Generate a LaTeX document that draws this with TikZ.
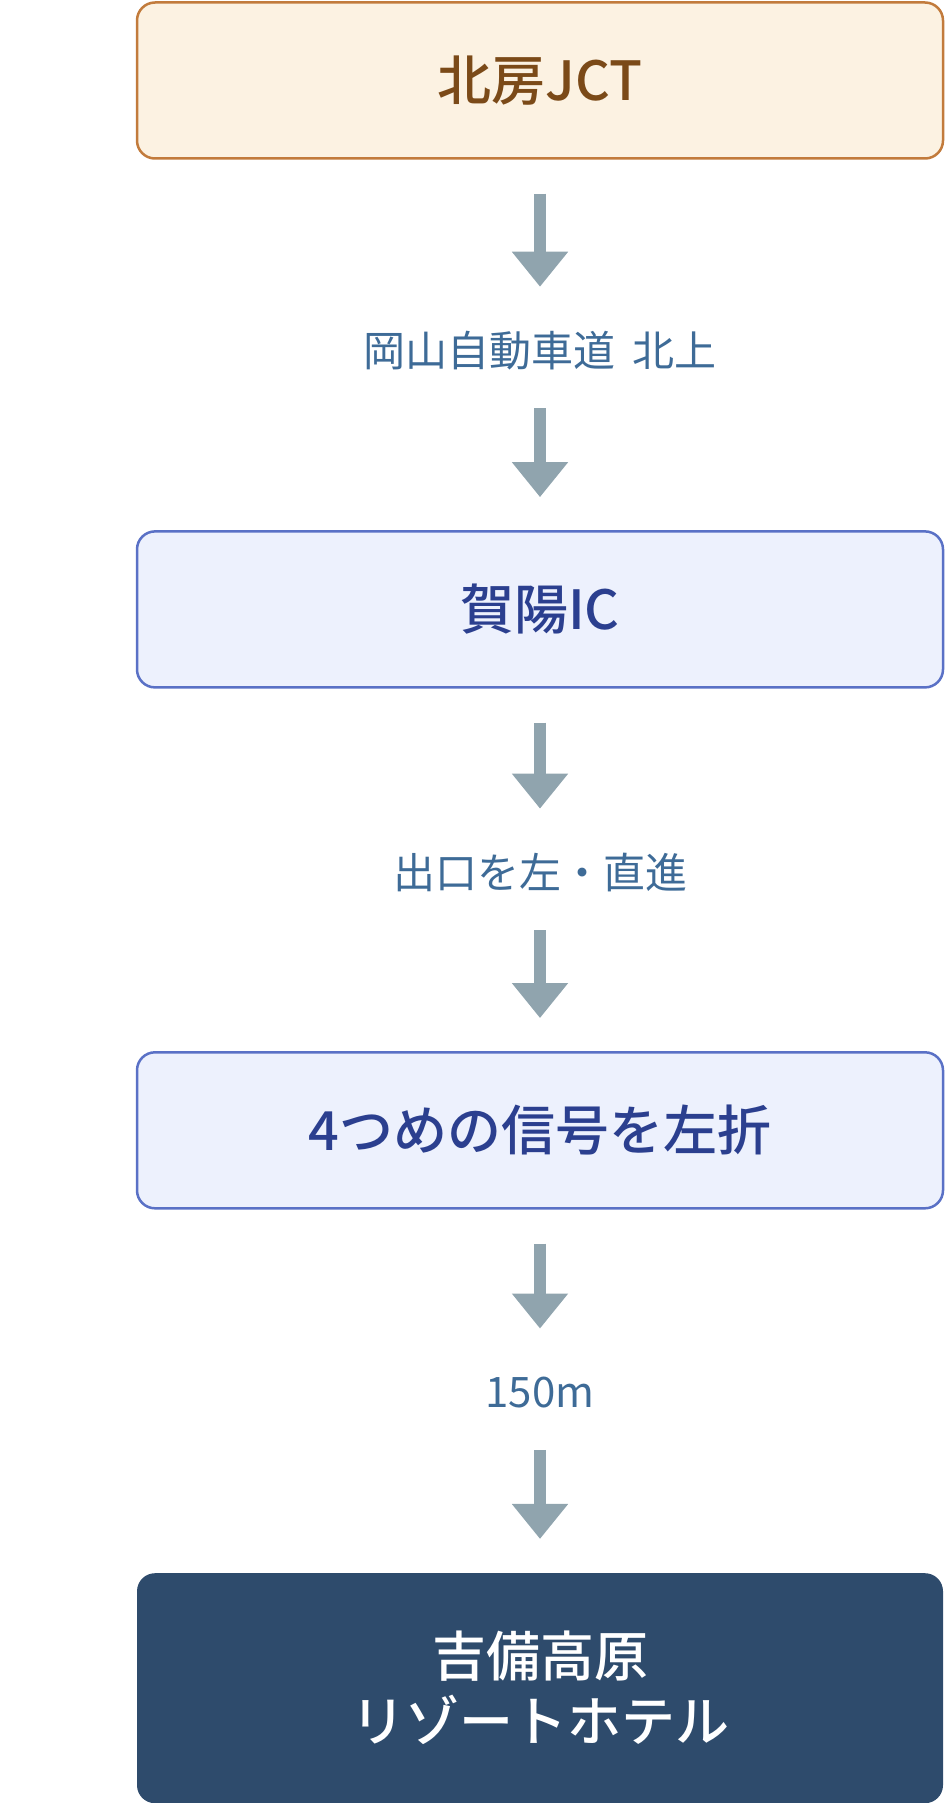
\documentclass[tikz,border=0pt]{standalone}
\usepackage{fontspec}
\setmainfont{Noto Sans CJK JP}[BoldFont={Noto Sans CJK JP Medium}]
\usepackage{tikz}
\usetikzlibrary{arrows.meta, positioning}
\definecolor{jctfill}{HTML}{FCF2E2}
\definecolor{jctline}{HTML}{C27B3C}
\definecolor{jcttext}{HTML}{7B4A18}
\definecolor{turnfill}{HTML}{EDF1FD}
\definecolor{turnline}{HTML}{5A71C6}
\definecolor{turntext}{HTML}{2B3F8F}
\definecolor{goalfill}{HTML}{2E4B6C}
\definecolor{arrowgray}{HTML}{90A4AE}
\definecolor{routetext}{HTML}{3E6B97}

\begin{document}
\begin{tikzpicture}[x=1pt, y=1pt,
    place/.style={rectangle, rounded corners=18pt, line width=2.5pt, inner sep=0pt,
                  minimum width=806pt, minimum height=156pt, align=center,
                  font=\fontsize{54}{65}\selectfont\bfseries},
    jct/.style={place, draw=jctline, fill=jctfill, text=jcttext},
    turn/.style={place, draw=turnline, fill=turnfill, text=turntext},
    goal/.style={place, fill=goalfill, text=white, minimum height=230pt},
    route/.style={inner sep=0pt, minimum height=40pt, text=routetext,
                  font=\fontsize{42}{50}\selectfont},
    arrow/.style={-{Triangle[width=54pt, length=35pt]}, line width=12pt, arrowgray},
    toroute/.style={arrow, shorten <=34pt, shorten >=44pt},
    tobox/.style={arrow, shorten <=37pt, shorten >=33pt}]

    \useasboundingbox (0,0) rectangle (945,-1803);

    \node[jct] (hokubo) at (540,-80.5) {北房JCT};
    \node[route, below=171pt of hokubo] (okayama) {岡山自動車道\hspace{.4em}北上};
    \node[turn, below=159pt of okayama] (kayo) {賀陽IC};
    \node[route, below=164pt of kayo] (exit) {出口を左・直進};
    \node[turn, below=158pt of exit] (signal) {4つめの信号を左折};
    \node[route, below=163pt of signal] (dist) {150m};
    \node[goal, below=159pt of dist] (hotel) {吉備高原\\リゾートホテル};

    \draw[toroute] (hokubo) -- (okayama);
    \draw[tobox] (okayama) -- (kayo);
    \draw[toroute] (kayo) -- (exit);
    \draw[tobox] (exit) -- (signal);
    \draw[toroute] (signal) -- (dist);
    \draw[tobox] (dist) -- (hotel);
\end{tikzpicture}
\end{document}
